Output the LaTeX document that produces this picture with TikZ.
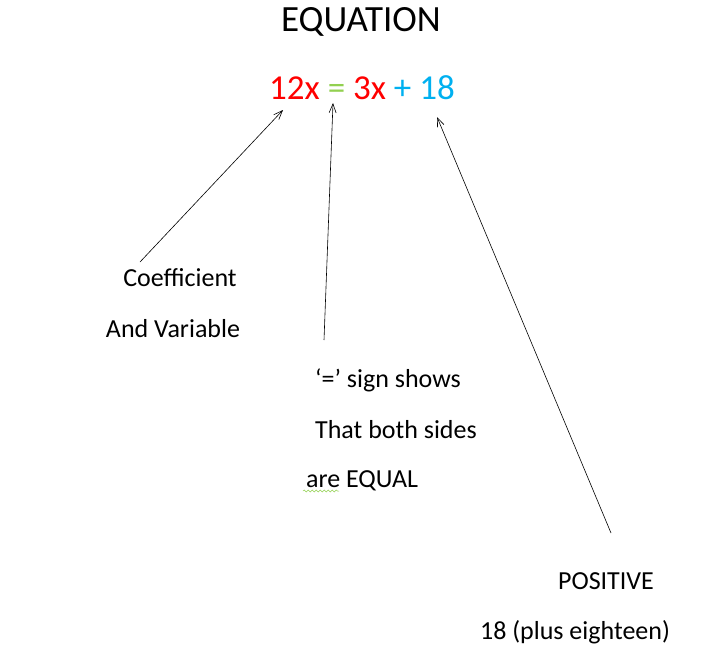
\documentclass[tikz,border=0pt]{standalone}
\usepackage{fontspec}
\setmainfont{Carlito}
\usetikzlibrary{arrows.meta,decorations.pathmorphing}
\definecolor{eqred}{RGB}{255,0,0}
\definecolor{eqgreen}{RGB}{146,208,80}
\definecolor{eqblue}{RGB}{0,176,240}
\begin{document}
\begin{tikzpicture}[x=1pt,y=-1pt,
  lbl/.style={font=\fontsize{26}{30}\selectfont,inner sep=0pt},
  arr/.style={-{Straight Barb[length=9pt,width=7pt]},line width=0.6pt}]
\useasboundingbox (0,0) rectangle (727,667);
\node[font=\fontsize{37}{40}\selectfont,inner sep=0pt] (title) at (361,22) {EQUATION};
\node[font=\fontsize{35}{38}\selectfont,inner sep=0pt] (eq) at (362,88)
  {\textcolor{eqred}{12x} \textcolor{eqgreen}{=} \textcolor{eqred}{3x} \textcolor{eqblue}{+ 18}};
\coordinate (t1) at (283,110);
\coordinate (t2) at (333,103);
\coordinate (t3) at (437,117);
\coordinate (s1) at (140,262);
\coordinate (s2) at (324,340);
\coordinate (s3) at (611,533);
\draw[arr] (s1) -- (t1);
\draw[arr] (s2) -- (t2);
\draw[arr] (s3) -- (t3);
\node[lbl] (l1) at (180,278) {Coefficient};
\node[lbl] (l2) at (173,329) {And Variable};
\node[lbl] (l3) at (388,380) {‘=’ sign shows};
\node[lbl] (l4) at (396,430) {That both sides};
\node[lbl] (l5) at (362,481) {are EQUAL};
\coordinate (w1) at (303,491);
\coordinate (w2) at (339,491);
\draw[eqgreen,line width=0.5pt,decorate,decoration={snake,amplitude=1pt,segment length=4pt}] (w1) -- (w2);
\node[lbl] (l6) at (606,581) {POSITIVE};
\node[lbl] (l7) at (575,632) {18 (plus eighteen)};
\end{tikzpicture}
\end{document}
